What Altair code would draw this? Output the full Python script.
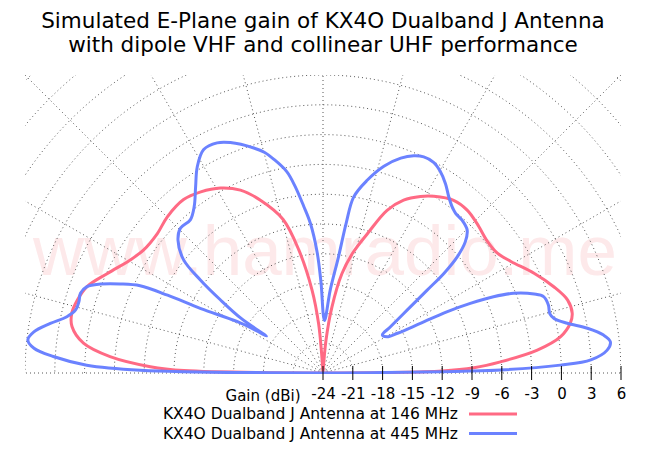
import altair as alt
import pandas as pd

# ---------------- data ----------------
TITLE = ["Simulated E-Plane gain of KX4O Dualband J Antenna",
         "with dipole VHF and collinear UHF performance"]
series_names = ["KX4O Dualband J Antenna at 146 MHz",
                "KX4O Dualband J Antenna at 445 MHz"]
series_colors = ["#ff6a84", "#6b82ff"]
watermark = "www.hamradio.me"

# elevation angle (deg) and gain (dBi), 146 MHz
angle_146 = [0, 1, 2, 3.6, 6.1, 8.7, 11.4, 13.5, 16.6, 20.5, 25.3, 30.7, 34.5,
             38.6, 44.1, 48.5, 52.9, 57.9, 61.1, 65.0, 68.5, 72.2, 76.0, 79.2,
             82.3, 84.8, 86.5, 89, 93.2, 94.2, 95.1, 97.5, 101.1, 104.6, 109.9,
             114.3, 119.0, 124.0, 128.8, 134.9, 139.9, 145.5, 149.6, 155.2,
             159.9, 163.5, 166.6, 169.5, 172.9, 175.6, 177.9, 179, 180]
gain_146 = [-40, -12, -8.8, -6.1, -2.3, 0.2, 1.4, 1.8, 1.7, 0.8, -0.5, -2.0, -2.7,
            -2.8, -2.4, -2.1, -2.2, -3.0, -3.7, -4.8, -6.4, -9.2, -11.5, -13.8,
            -17.3, -20.7, -24, -40, -24, -21.7, -19.0, -15.6, -11.4, -8.0, -5.5,
            -3.8, -2.7, -2.0, -1.6, -1.8, -2.2, -2.1, -1.5, -0.1,
            1.3, 1.8, 2.0, 1.7, 0.3, -2.5, -6.6, -10, -40]

# elevation angle (deg) and gain (dBi), 445 MHz
angle_445 = [0, 0.97, 1.9, 2.8, 4.6, 6.2, 7.7, 9.6, 11.5, 13.3, 14.7, 16.8, 19.1,
             20.5, 22.7, 24.1, 25.3, 26.3, 27.0, 28.1, 29.5, 32.7, 34.4, 36.8,
             38.5, 39.5, 40.9, 42.7, 44.8, 47.7, 50.3, 52.2, 54.5, 57.1, 59.9,
             62.3, 65.0, 67.3, 70.1, 73.6, 77.1, 80.1, 81.2, 82.4, 85.0, 88.4,
             91.3, 92.8, 94.8, 96.6, 98.5, 100.2, 103.0, 104.9, 107.1, 111.9,
             114.7, 118.1, 121.4, 124.4, 127.7, 130.9, 134.6, 137.5, 140.9,
             142.8, 144.5, 146.3, 146.9, 147.6, 149.1, 152.2, 153.4, 154.5,
             156.3, 158.2, 159.9, 161.8, 163.7, 165.7, 167.6, 169.7, 171.9,
             173.6, 175.1, 176.5, 178.1, 179.1, 180]
gain_445 = [-40, -6.1, -0.1, 3.0, 4.7, 5.1, 4.5, 3.0, 1.1, -0.1, -0.4, -0.3, -0.5,
            -1.3, -3.2, -5.2, -7.6, -10.1, -13.0, -15.5, -16.6, -16.9, -15.8, -13.4,
            -10.6, -8.2, -6.1, -4.5, -3.55, -3.2, -3.1, -2.8, -2.2, -1.3, -0.5,
            -0.05, 0.0, -0.3, -1.0, -2.3, -4.1, -6.0, -8.7, -12.2, -15.6, -18.7,
            -14.8, -11.8, -8.9, -7.1, -5.0, -3.4, -1.9, -1.0, -0.3, 1.0,
            1.5, 1.5, 0.3, -1.3, -2.8, -3.6, -3.55, -4.2, -5.9,
            -8.5, -11.3, -14.1, -17.2, -16.0, -13.9, -10.1, -6.5, -3.6,
            -1.7, 0.1, 1.3, 1.7, 1.6, 1.7, 2.4, 3.9, 5.4,
            5.9, 5.2, 3.2, -0.2, -5.6, -40]

GAIN_MIN = -24          # gain at the centre of the polar plot
GAIN_MAX = 6            # gain at the outer edge
ring_gains = list(range(-21, 19, 3))      # polar grid circles (dBi)
spoke_angles = list(range(0, 181, 15))    # polar grid spokes (deg)
tick_gains = list(range(-24, 7, 3))       # axis tick labels (dBi)

# ---------------- chart ----------------
W, H = 596, 299
span = GAIN_MAX - GAIN_MIN
FONT = "DejaVu Sans"

curves = pd.concat([
    pd.DataFrame({"angle": angle_146, "gain": gain_146, "series": series_names[0]}),
    pd.DataFrame({"angle": angle_445, "gain": gain_445, "series": series_names[1]}),
], ignore_index=True)

rings = pd.DataFrame([(g, a) for g in ring_gains for a in range(0, 181)],
                     columns=["gain", "angle"])
spokes = pd.DataFrame({"angle": spoke_angles})
ticks = pd.DataFrame({"gain": tick_gains})

xscale = alt.Scale(domain=[-span, span], nice=False, zero=False)
yscale = alt.Scale(domain=[-0.1, span], nice=False, zero=False)

xaxis = alt.Axis(
    values=[g - GAIN_MIN for g in tick_gains],
    labelExpr=f"datum.value + ({GAIN_MIN})",
    title="Gain (dBi)", titleX=275, titleY=26, titleAlign="right",
    titleBaseline="alphabetic", titleAngle=0, titleFont=FONT, titleFontSize=15,
    titleFontWeight="normal", titleColor="black",
    labelFont=FONT, labelFontSize=15, labelColor="black", labelPadding=12,
    ticks=False, tickSize=0, domain=False, grid=False,
    labelOverlap=False, labelFlush=False,
)
X = alt.X("x:Q", scale=xscale, axis=xaxis)
Y = alt.Y("y:Q", scale=yscale, axis=None)

polar_r = f"max(datum.gain - ({GAIN_MIN}), 0)"

def polar(ch):
    return ch.transform_calculate(r=polar_r).transform_calculate(
        x="datum.r * cos(datum.angle * PI / 180)",
        y="datum.r * sin(datum.angle * PI / 180)",
    )

mark_wm = alt.Chart(pd.DataFrame({"t": [watermark]})).mark_text(
    font="Liberation Sans", fontSize=71, color="#fde9ea", align="center",
    baseline="alphabetic",
).encode(x=alt.value(300), y=alt.value(200), text="t:N")

grid_rings = polar(alt.Chart(rings)).mark_line(
    clip=True, color="#555", strokeWidth=1, strokeDash=[1, 3]
).encode(x=X, y=Y, detail="gain:N", order=alt.Order("angle:Q"))

grid_spokes = alt.Chart(spokes).transform_calculate(
    x0="0", y0="0",
    x="45 * cos(datum.angle * PI / 180)",
    y="45 * sin(datum.angle * PI / 180)",
).mark_rule(clip=True, color="#555", strokeWidth=1, strokeDash=[1, 3]).encode(
    x=alt.X("x0:Q", scale=xscale, axis=xaxis), y=alt.Y("y0:Q", scale=yscale, axis=None),
    x2="x:Q", y2="y:Q",
)

lines = polar(alt.Chart(curves)).mark_line(
    clip=True, strokeWidth=3, interpolate="catmull-rom"
).encode(
    x=X, y=Y,
    color=alt.Color("series:N", scale=alt.Scale(domain=series_names, range=series_colors),
                    legend=None),
    order=alt.Order("angle:Q"),
)

tick_marks = alt.Chart(ticks).transform_calculate(
    x=f"datum.gain - ({GAIN_MIN})"
).mark_rule(color="black", strokeWidth=1).encode(
    x=X, y=alt.value(H - 8), y2=alt.value(H + 6)
)

legend_layers = []
for i, (name, col) in enumerate(zip(series_names, series_colors)):
    ypix = 339 + i * 19.5
    df = pd.DataFrame({"label": [name]})
    legend_layers.append(
        alt.Chart(df).mark_text(font=FONT, fontSize=15.5, align="right",
                                baseline="middle", color="black")
        .encode(text="label:N", x=alt.value(433), y=alt.value(ypix))
    )
    legend_layers.append(
        alt.Chart(df).mark_rule(color=col, strokeWidth=3)
        .encode(x=alt.value(444), x2=alt.value(492), y=alt.value(ypix))
    )

chart = alt.layer(
    mark_wm, grid_rings, grid_spokes, lines, tick_marks, *legend_layers
).properties(
    width=W, height=H,
    padding={"left": 17, "top": 67, "right": 20, "bottom": 68},
    autosize=alt.AutoSizeParams(type="none"),
    background="white",
    title=alt.TitleParams(text=TITLE, font=FONT, fontSize=21.5, fontWeight="normal",
                          color="black", anchor="middle", lineHeight=24, offset=19),
).configure_view(stroke=None)

chart.save("out.html", embed_options={"renderer": "svg", "actions": False})
